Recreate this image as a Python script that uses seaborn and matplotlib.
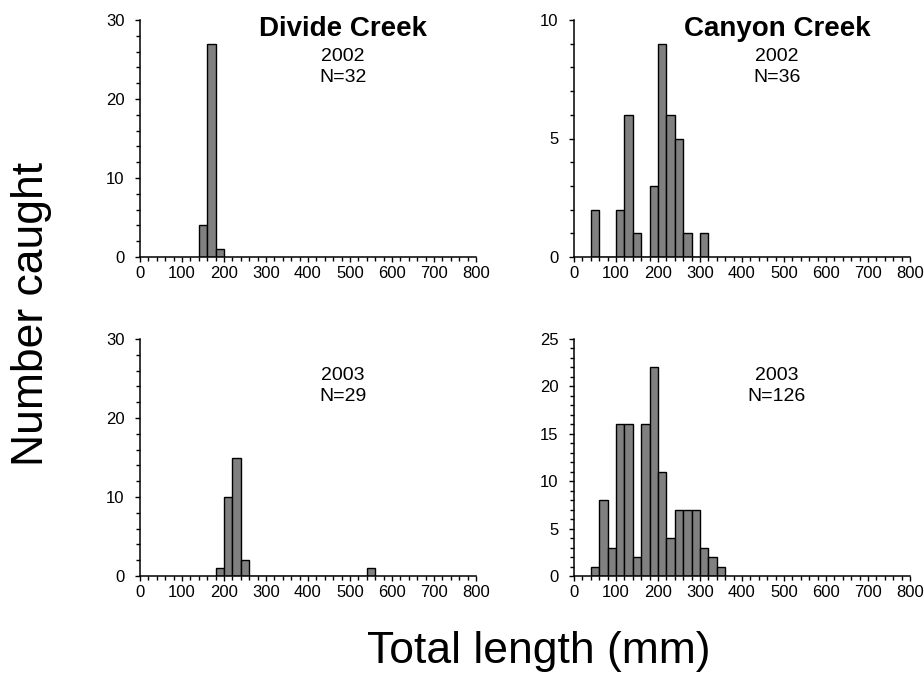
import pandas as pd
import seaborn as sns
import matplotlib
matplotlib.use('Agg')
import matplotlib.pyplot as plt
from matplotlib.ticker import MultipleLocator

# lower edge of each 20 mm length class, and number caught in it
bin_width = 20

divide_2002_start = 140
divide_2002_counts = [4, 27, 1]

canyon_2002_start = 40
canyon_2002_counts = [2, 0, 0, 2, 6, 1, 0, 3, 9, 6, 5, 1, 0, 1]

divide_2003_start = 180
divide_2003_counts = [1, 10, 15, 2, 0, 0, 0, 0, 0, 0, 0, 0, 0, 0, 0, 0, 0, 0, 1]

canyon_2003_start = 40
canyon_2003_counts = [1, 8, 3, 16, 16, 2, 16, 22, 11, 4, 7, 7, 7, 3, 2, 1]

panels = [
    # start, counts, year, N, creek, ymax, major, minor, position
    (divide_2002_start, divide_2002_counts, '2002', 'N=32', 'Divide Creek', 30, 10, 2,
     [140 / 924, 1 - 257 / 682, 336 / 924, 237 / 682]),
    (canyon_2002_start, canyon_2002_counts, '2002', 'N=36', 'Canyon Creek', 10, 5, 1,
     [574 / 924, 1 - 257 / 682, 336 / 924, 237 / 682]),
    (divide_2003_start, divide_2003_counts, '2003', 'N=29', None, 30, 10, 2,
     [140 / 924, 1 - 576 / 682, 336 / 924, 237 / 682]),
    (canyon_2003_start, canyon_2003_counts, '2003', 'N=126', None, 25, 5, 1,
     [574 / 924, 1 - 576 / 682, 336 / 924, 237 / 682]),
]

sns.set_style('ticks')
plt.rcParams['font.family'] = ['Liberation Sans', 'DejaVu Sans']
plt.rcParams['text.color'] = 'black'
plt.rcParams['xtick.color'] = 'black'
plt.rcParams['ytick.color'] = 'black'

fig = plt.figure(figsize=(9.24, 6.82), dpi=100)

for start, counts, year, n_label, creek, ymax, major, minor, pos in panels:
    ax = fig.add_axes(pos)
    edges = [start + bin_width * i for i in range(len(counts) + 1)]
    df = pd.DataFrame({'length': [e + bin_width / 2 for e in edges[:-1]], 'count': counts})
    sns.histplot(data=df, x='length', weights='count', bins=edges, ax=ax,
                 color='#808080', edgecolor='black', linewidth=1.0, alpha=1)

    ax.set_xlim(0, 800)
    ax.set_ylim(0, ymax)
    ax.xaxis.set_major_locator(MultipleLocator(100))
    ax.xaxis.set_minor_locator(MultipleLocator(20))
    ax.yaxis.set_major_locator(MultipleLocator(major))
    ax.yaxis.set_minor_locator(MultipleLocator(minor))
    ax.tick_params(which='major', length=3.6, width=1, direction='out', labelsize=12)
    ax.tick_params(which='minor', length=2.6, width=1, direction='out')
    ax.tick_params(axis='x', pad=3)
    ax.tick_params(axis='y', pad=7.5)
    ax.set_xlabel('')
    ax.set_ylabel('')
    for side in ['top', 'right']:
        ax.spines[side].set_visible(False)
    for side in ['left', 'bottom']:
        ax.spines[side].set_linewidth(1.1)
        ax.spines[side].set_color('black')

    if creek:
        ax.text(0.604, 0.9325, creek, transform=ax.transAxes, ha='center', va='baseline',
                fontsize=20, fontweight='bold')
    ax.text(0.604, 0.828, year, transform=ax.transAxes, ha='center', va='baseline', fontsize=14)
    ax.text(0.604, 0.740, n_label, transform=ax.transAxes, ha='center', va='baseline', fontsize=14)

fig.text(31.7 / 924, 1 - 314 / 682, 'Number caught', rotation=90, ha='center', va='center', fontsize=32)
fig.text(539 / 924, 1 - 663 / 682, 'Total length (mm)', ha='center', va='baseline', fontsize=32)

fig.savefig('out.png', dpi=100)
